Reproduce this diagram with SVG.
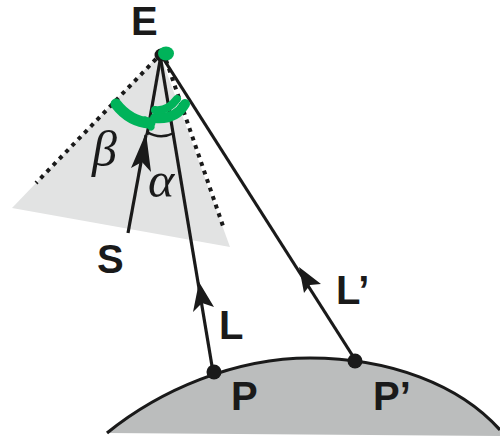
<svg xmlns="http://www.w3.org/2000/svg" width="500" height="436" viewBox="0 0 500 436">
<style>
.ln{fill:none;stroke:#1a1a1a;stroke-width:3.2}
.dot{fill:none;stroke:#1a1a1a;stroke-width:4;stroke-dasharray:4 5}
.hd{fill:#1a1a1a;stroke:none}
.lb{font-family:"Liberation Sans",Arial,sans-serif;font-weight:bold;font-size:40px;fill:#1a1a1a}
.gr{font-family:"Liberation Serif","Times New Roman",serif;font-style:italic;font-size:50px;fill:#1a1a1a}
.g{fill:none;stroke:#00b35a;stroke-linecap:round;stroke-linejoin:round}
</style>
<rect width="500" height="436" fill="#fff"/>
<g id="cone"><polygon points="12,208 230,247 160,54" fill="#e2e3e3"/></g>
<g id="surface"><path d="M107,433 C160,390 235,358 310,358 C390,358 460,385 500,430 L500,436 L107,433 Z" fill="#bbbdbd"/><path d="M107,433 C160,390 235,358 310,358 C390,358 460,385 500,430" class="ln"/></g>
<g id="connectors">
<path class="dot" d="M156,59 L36,183"/>
<path class="dot" d="M166,60 L224,229"/>
<path class="ln" d="M160,55 L213,372"/>
<path class="ln" d="M161,55 L356,361"/>
<path class="ln" d="M161,55 L147,135"/>
<path class="ln" d="M146,135 L128,233"/>
<path d="M147,132 Q160,140 174,133" fill="none" stroke="#1a1a1a" stroke-width="2.5"/>
<path class="hd" d="M146,133 L151,172 L142,162 L131,168 Z"/>
<path class="hd" d="M199,282 L214,307 L202,303 L193,312 Z"/>
<path class="hd" d="M299,267 L321,284 L310,285 L304,293 Z"/>
</g>
<g id="E"><circle cx="161" cy="55" r="6.5" fill="#1a1a1a"/><ellipse cx="166" cy="53.5" rx="8" ry="7" fill="#00b35a"/><text class="lb" x="131" y="35">E</text></g>
<g id="marks">
<path class="g" stroke-width="11" d="M116,104 C123,113 134,122 150,123"/>
<path class="g" stroke-width="7" d="M145,120 L151,127"/>
<path class="g" stroke-width="10" d="M155,118 C166,119 178,116 185,104"/>
<path class="g" stroke-width="8" d="M155,110 C163,111 171,107 177,99"/>
</g>
<g id="S"><text class="lb" x="97" y="273">S</text></g>
<g id="beta"><text class="gr" x="92" y="166">β</text></g>
<g id="alpha"><text class="gr" x="148" y="197">α</text></g>
<g id="L"><text class="lb" x="219" y="339">L</text></g>
<g id="Lp"><text class="lb" x="336" y="304">L’</text></g>
<g id="P"><circle cx="214" cy="372" r="7.5" fill="#1a1a1a"/><text class="lb" x="231" y="410">P</text></g>
<g id="Pp"><circle cx="355" cy="361" r="7.5" fill="#1a1a1a"/><text class="lb" x="373" y="410">P’</text></g>
</svg>
